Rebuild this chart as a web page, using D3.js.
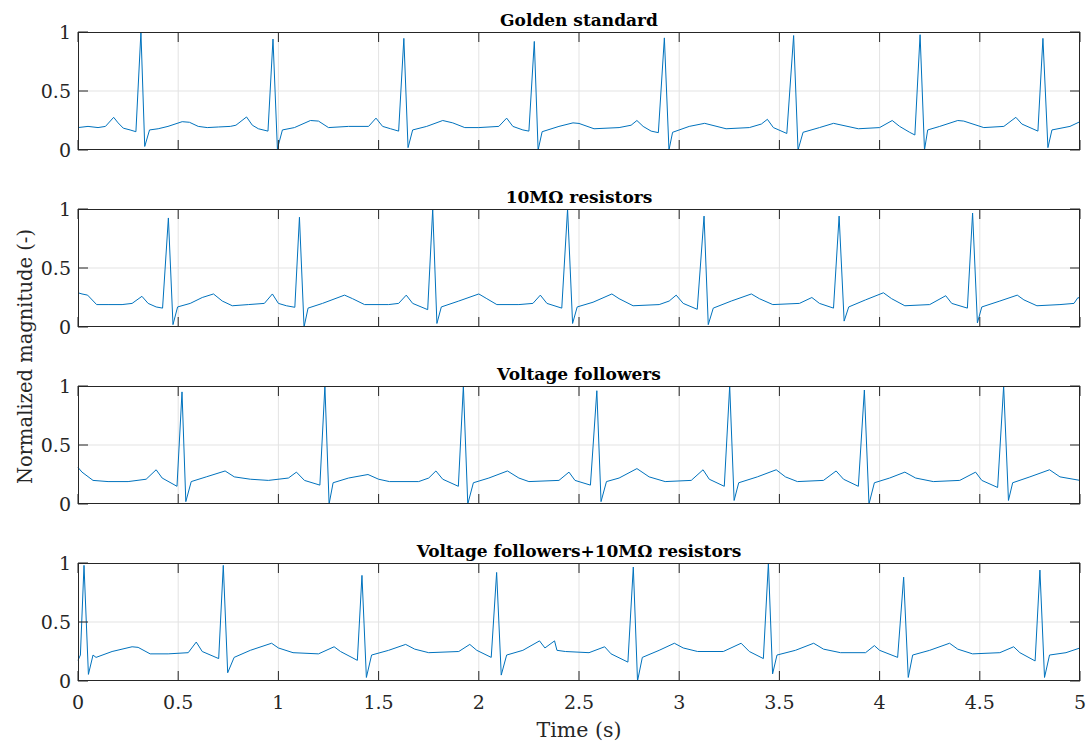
<!DOCTYPE html>
<html>
<head>
<meta charset="utf-8">
<script src="https://cdn.jsdelivr.net/npm/d3@7"></script>
<style>
  body { margin: 0; background: #fff; }
  svg { display: block; font-family: 'DejaVu Serif', serif; }
</style>
</head>
<body>
<div id="chart"></div>
<script>
// ECG recordings, normalized as [time (s), magnitude]
const panelTitles = ['Golden standard', '10M\u03A9 resistors', 'Voltage followers', 'Voltage followers+10M\u03A9 resistors'];
const xTicks = [0, 0.5, 1, 1.5, 2, 2.5, 3, 3.5, 4, 4.5, 5];
const yTicks = [0, 0.5, 1];

const goldenStandard = [
  [0,0.19],[0.05,0.2],[0.1,0.19],[0.137,0.2],[0.178,0.277],[0.2,0.23],[0.226,0.185],[0.26,0.17],[0.289,0.155],
  [0.314,1.0],[0.333,0.03],[0.357,0.17],[0.4,0.18],[0.449,0.2],[0.52,0.24],[0.556,0.235],[0.6,0.2],[0.645,0.19],
  [0.7,0.195],[0.76,0.2],[0.788,0.21],[0.841,0.28],[0.87,0.21],[0.9,0.18],[0.948,0.16],[0.973,0.94],[0.995,0.01],
  [1.02,0.17],[1.08,0.19],[1.16,0.25],[1.2,0.245],[1.25,0.19],[1.35,0.2],[1.45,0.2],[1.487,0.27],[1.52,0.2],
  [1.56,0.18],[1.6,0.16],[1.626,0.946],[1.647,0.02],[1.67,0.17],[1.74,0.2],[1.82,0.25],[1.87,0.23],[1.93,0.19],
  [2.0,0.19],[2.1,0.2],[2.139,0.27],[2.17,0.2],[2.22,0.17],[2.25,0.16],[2.277,0.92],[2.296,0.0],[2.316,0.155],
  [2.4,0.2],[2.47,0.23],[2.5,0.225],[2.575,0.18],[2.7,0.19],[2.76,0.21],[2.789,0.25],[2.82,0.2],[2.86,0.16],
  [2.896,0.147],[2.926,0.95],[2.949,0.0],[2.967,0.15],[3.05,0.2],[3.127,0.226],[3.234,0.18],[3.35,0.19],
  [3.41,0.22],[3.44,0.26],[3.47,0.19],[3.537,0.14],[3.571,0.97],[3.593,0.0],[3.618,0.15],[3.7,0.19],[3.77,0.226],
  [3.894,0.18],[4.0,0.19],[4.063,0.25],[4.1,0.2],[4.15,0.15],[4.176,0.127],[4.202,0.977],[4.224,0.0],[4.24,0.17],
  [4.3,0.2],[4.39,0.25],[4.42,0.245],[4.52,0.19],[4.62,0.2],[4.68,0.277],[4.71,0.22],[4.79,0.16],[4.815,0.946],
  [4.84,0.02],[4.86,0.17],[4.95,0.2],[5.0,0.24]
];

const resistors10M = [
  [0,0.29],[0.02,0.28],[0.048,0.27],[0.093,0.19],[0.15,0.19],[0.22,0.19],[0.27,0.2],[0.319,0.26],[0.35,0.2],
  [0.39,0.17],[0.422,0.16],[0.451,0.924],[0.474,0.02],[0.497,0.17],[0.56,0.2],[0.62,0.25],[0.676,0.28],[0.72,0.22],
  [0.77,0.18],[0.85,0.19],[0.93,0.2],[0.97,0.28],[1.0,0.2],[1.04,0.18],[1.082,0.167],[1.105,0.93],[1.128,0.0],
  [1.148,0.16],[1.22,0.2],[1.33,0.27],[1.37,0.24],[1.43,0.19],[1.55,0.19],[1.6,0.2],[1.638,0.27],[1.67,0.2],
  [1.745,0.147],[1.77,1.0],[1.791,0.03],[1.813,0.17],[1.9,0.22],[2.0,0.28],[2.04,0.24],[2.09,0.19],[2.2,0.19],
  [2.27,0.2],[2.307,0.27],[2.34,0.2],[2.414,0.16],[2.443,1.0],[2.468,0.03],[2.491,0.17],[2.57,0.21],[2.664,0.28],
  [2.7,0.24],[2.77,0.18],[2.9,0.19],[2.95,0.22],[2.985,0.27],[3.02,0.2],[3.09,0.15],[3.124,0.94],[3.145,0.02],
  [3.17,0.16],[3.26,0.22],[3.36,0.28],[3.4,0.24],[3.467,0.19],[3.6,0.2],[3.662,0.25],[3.7,0.2],[3.77,0.16],
  [3.798,0.94],[3.823,0.05],[3.846,0.17],[3.93,0.23],[4.019,0.29],[4.06,0.24],[4.126,0.18],[4.25,0.19],
  [4.33,0.265],[4.36,0.2],[4.438,0.16],[4.464,0.966],[4.488,0.035],[4.51,0.17],[4.6,0.22],[4.687,0.27],
  [4.72,0.23],[4.785,0.18],[4.9,0.19],[4.97,0.2],[4.99,0.25],[5.0,0.24]
];

const voltageFollowers = [
  [0,0.31],[0.02,0.27],[0.075,0.2],[0.15,0.19],[0.25,0.19],[0.34,0.21],[0.39,0.29],[0.42,0.22],[0.494,0.15],
  [0.519,0.95],[0.538,0.02],[0.565,0.19],[0.64,0.23],[0.734,0.28],[0.78,0.23],[0.86,0.21],[0.95,0.2],[1.05,0.22],
  [1.09,0.27],[1.13,0.2],[1.207,0.16],[1.232,1.0],[1.253,0.0],[1.273,0.18],[1.35,0.22],[1.447,0.25],[1.5,0.21],
  [1.554,0.19],[1.7,0.19],[1.75,0.22],[1.786,0.28],[1.82,0.21],[1.898,0.15],[1.923,1.0],[1.945,0.0],[1.973,0.18],
  [2.05,0.22],[2.143,0.28],[2.2,0.22],[2.25,0.19],[2.4,0.2],[2.45,0.27],[2.48,0.2],[2.557,0.16],[2.589,0.96],
  [2.61,0.02],[2.637,0.19],[2.7,0.22],[2.789,0.3],[2.85,0.23],[2.93,0.19],[3.06,0.2],[3.119,0.29],[3.15,0.21],
  [3.225,0.15],[3.252,1.0],[3.274,0.03],[3.297,0.18],[3.39,0.23],[3.484,0.29],[3.53,0.23],[3.59,0.19],[3.72,0.2],
  [3.783,0.28],[3.82,0.21],[3.894,0.15],[3.924,0.966],[3.947,0.0],[3.974,0.18],[4.05,0.22],[4.126,0.27],
  [4.18,0.22],[4.268,0.19],[4.4,0.2],[4.479,0.27],[4.51,0.2],[4.589,0.14],[4.619,1.0],[4.643,0.03],[4.664,0.18],
  [4.75,0.23],[4.848,0.29],[4.9,0.23],[5.0,0.2]
];

const followersResistors = [
  [0,0.175],[0.012,0.22],[0.03,0.98],[0.052,0.056],[0.075,0.22],[0.09,0.2],[0.17,0.25],[0.27,0.29],[0.3,0.285],
  [0.36,0.23],[0.45,0.23],[0.55,0.24],[0.59,0.33],[0.62,0.25],[0.702,0.19],[0.725,0.98],[0.747,0.07],[0.779,0.2],
  [0.86,0.26],[0.966,0.32],[1.0,0.28],[1.073,0.24],[1.2,0.23],[1.278,0.29],[1.31,0.25],[1.394,0.175],[1.417,0.895],
  [1.439,0.03],[1.465,0.22],[1.55,0.26],[1.635,0.31],[1.68,0.27],[1.75,0.24],[1.9,0.25],[1.955,0.31],[1.99,0.26],
  [2.062,0.2],[2.089,0.92],[2.112,0.05],[2.139,0.22],[2.22,0.26],[2.303,0.34],[2.33,0.28],[2.378,0.34],[2.39,0.26],
  [2.432,0.25],[2.55,0.24],[2.628,0.29],[2.66,0.23],[2.744,0.16],[2.771,0.966],[2.792,0.0],[2.816,0.2],[2.9,0.26],
  [2.976,0.32],[3.02,0.28],[3.092,0.25],[3.22,0.25],[3.309,0.32],[3.35,0.25],[3.42,0.19],[3.445,1.0],[3.466,0.06],
  [3.488,0.22],[3.58,0.26],[3.671,0.32],[3.72,0.27],[3.805,0.24],[3.93,0.24],[3.974,0.3],[4.0,0.26],[4.09,0.2],
  [4.12,0.88],[4.143,0.03],[4.165,0.22],[4.25,0.26],[4.349,0.32],[4.39,0.27],[4.464,0.23],[4.6,0.24],[4.669,0.29],
  [4.7,0.24],[4.776,0.17],[4.8,0.94],[4.823,0.03],[4.848,0.22],[4.93,0.24],[5.0,0.28]
];

const series = [goldenStandard, resistors10M, voltageFollowers, followersResistors];

// Layout
const width = 1091, height = 742;
const left = 78, right = 1080;
const panelTops = [32, 209, 386, 563];
const panelH = 118;
const tickLen = 10;
const axisColor = '#262626';
const gridColor = '#e3e3e3';
const lineColor = '#0072BD';

const svg = d3.select('#chart').append('svg')
  .attr('width', width)
  .attr('height', height);

const x = d3.scaleLinear().domain([0, 5]).range([left, right]);

series.forEach((data, i) => {
  const top = panelTops[i];
  const y = d3.scaleLinear().domain([0, 1]).range([top + panelH, top]);
  const g = svg.append('g');

  // Grid
  g.append('g').selectAll('line')
    .data(xTicks.slice(1, -1))
    .join('line')
    .attr('x1', d => x(d)).attr('x2', d => x(d))
    .attr('y1', top).attr('y2', top + panelH)
    .attr('stroke', gridColor).attr('stroke-width', 1);
  g.append('g').selectAll('line')
    .data(yTicks.slice(1, -1))
    .join('line')
    .attr('x1', left).attr('x2', right)
    .attr('y1', d => y(d)).attr('y2', d => y(d))
    .attr('stroke', gridColor).attr('stroke-width', 1);

  // Signal
  const line = d3.line()
    .x(d => x(d[0]))
    .y(d => y(d[1]));
  g.append('path')
    .datum(data)
    .attr('fill', 'none')
    .attr('stroke', lineColor)
    .attr('stroke-width', 1)
    .attr('stroke-linejoin', 'round')
    .attr('d', line);

  // Inner ticks on all four sides
  const tk = g.append('g').attr('stroke', axisColor).attr('stroke-width', 1);
  tk.selectAll('line.b')
    .data(xTicks)
    .join('line')
    .attr('class', 'b')
    .attr('x1', d => x(d)).attr('x2', d => x(d))
    .attr('y1', top + panelH).attr('y2', top + panelH - tickLen);
  tk.selectAll('line.t')
    .data(xTicks)
    .join('line')
    .attr('class', 't')
    .attr('x1', d => x(d)).attr('x2', d => x(d))
    .attr('y1', top).attr('y2', top + tickLen);
  tk.selectAll('line.l')
    .data(yTicks)
    .join('line')
    .attr('class', 'l')
    .attr('x1', left).attr('x2', left + tickLen)
    .attr('y1', d => y(d)).attr('y2', d => y(d));
  tk.selectAll('line.r')
    .data(yTicks)
    .join('line')
    .attr('class', 'r')
    .attr('x1', right).attr('x2', right - tickLen)
    .attr('y1', d => y(d)).attr('y2', d => y(d));

  // Box
  g.append('rect')
    .attr('x', left + 0.5).attr('y', top + 0.5)
    .attr('width', right - left - 1).attr('height', panelH - 1)
    .attr('fill', 'none')
    .attr('stroke', axisColor).attr('stroke-width', 1);

  // Y tick labels
  g.append('g').selectAll('text')
    .data(yTicks)
    .join('text')
    .attr('x', left - 7)
    .attr('y', d => y(d))
    .attr('dy', '0.36em')
    .attr('text-anchor', 'end')
    .attr('font-size', 19)
    .attr('fill', axisColor)
    .text(d => d);

  // Title
  g.append('text')
    .attr('x', (left + right) / 2)
    .attr('y', top - 6)
    .attr('text-anchor', 'middle')
    .attr('font-size', 17)
    .attr('font-weight', 'bold')
    .attr('fill', '#000')
    .text(panelTitles[i]);

  // X tick labels only under the last panel
  if (i === series.length - 1) {
    g.append('g').selectAll('text')
      .data(xTicks)
      .join('text')
      .attr('x', d => x(d))
      .attr('y', top + panelH + 28)
      .attr('text-anchor', 'middle')
      .attr('font-size', 19)
      .attr('fill', axisColor)
      .text(d => d);
  }
});

// Axis labels
svg.append('text')
  .attr('x', (left + right) / 2)
  .attr('y', 737)
  .attr('text-anchor', 'middle')
  .attr('font-size', 20.5)
  .attr('fill', axisColor)
  .text('Time (s)');

svg.append('text')
  .attr('transform', `translate(32,${(panelTops[0] + panelTops[3] + panelH) / 2}) rotate(-90)`)
  .attr('text-anchor', 'middle')
  .attr('font-size', 19.5)
  .attr('fill', axisColor)
  .text('Normalized magnitude (-)');
</script>
</body>
</html>
